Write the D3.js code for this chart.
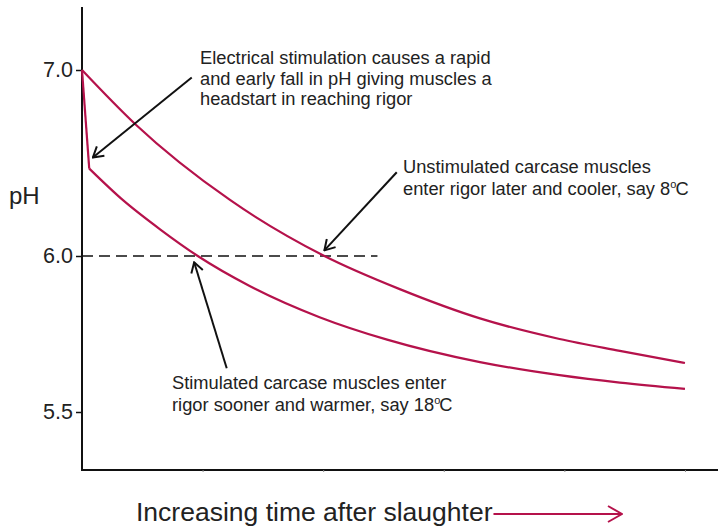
<!DOCTYPE html>
<html>
<head>
<meta charset="utf-8">
<script src="https://cdn.jsdelivr.net/npm/d3@7"></script>
<style>
  body { margin: 0; background: #fff; }
  svg { display: block; font-family: "Liberation Sans", Arial, sans-serif; }
</style>
</head>
<body>
<svg id="chart" width="726" height="529"></svg>
<script>
// 数据：时间（任意单位）与 pH
const phTicks = [5.5, 6.0, 7.0];
const timeTicks = [1, 2, 3, 4, 5];
const unstimTime = [0, 0.44, 1.23, 2.01, 2.64, 3.30, 3.96, 4.46, 5.00];
const unstimPH   = [7.0, 6.71, 6.30, 6.00, 5.893, 5.80, 5.734, 5.696, 5.657];
const stimTime = [0, 0.06, 0.34, 0.65, 0.96, 1.39, 1.97, 2.53, 3.30, 3.96, 4.46, 5.00];
const stimPH   = [7.0, 6.47, 6.30, 6.142, 6.00, 5.904, 5.804, 5.732, 5.660, 5.618, 5.594, 5.574];
const rigorPH = 6.0;
const rigorLineEnd = 2.45;

const red = '#b5124b';
const svg = d3.select('#chart');

// 横坐标（时间）
const x = d3.scaleLinear().domain([0, 5.274]).range([82, 718]);
// 纵坐标（pH），原图刻度不等距，用分段线性
const y = d3.scaleLinear()
    .domain([5.314, 5.5, 6.0, 7.0, 7.339])
    .range([470, 412, 256, 70, 7]);

// 箭头
const defs = svg.append('defs');
function addMarker(id, color, len, half) {
    defs.append('marker')
        .attr('id', id)
        .attr('viewBox', `-1 ${-half - 1} ${len + 2} ${2 * half + 2}`)
        .attr('refX', len).attr('refY', 0)
        .attr('markerUnits', 'userSpaceOnUse')
        .attr('markerWidth', len + 2).attr('markerHeight', 2 * half + 2)
        .attr('orient', 'auto')
        .append('path')
        .attr('d', `M0,${-half}L${len},0L0,${half}`)
        .attr('fill', 'none')
        .attr('stroke', color)
        .attr('stroke-width', 2);
}
addMarker('arrowBlack', '#111', 10, 6);
addMarker('arrowRed', red, 14, 8);

// 坐标轴
const yAxis = d3.axisLeft(y).tickValues(phTicks).tickSize(6).tickPadding(3)
    .tickFormat(d3.format('.1f'));
const yg = svg.append('g').attr('transform', `translate(${x(0)},0)`).call(yAxis);
yg.select('.domain').attr('stroke', '#111').attr('stroke-width', 2)
    .attr('d', `M0,${y.range()[4]}V${y.range()[0]}`);
yg.selectAll('.tick line').attr('stroke', '#111').attr('stroke-width', 1.5);
yg.selectAll('.tick text').attr('font-size', 21.5).attr('fill', '#222')
    .attr('font-family', '"Liberation Sans", Arial, sans-serif');

const xAxis = d3.axisBottom(x).tickValues(timeTicks).tickSize(2).tickFormat('');
const xg = svg.append('g').attr('transform', `translate(0,${y(y.domain()[0])})`).call(xAxis);
xg.select('.domain').attr('stroke', '#111').attr('stroke-width', 2)
    .attr('d', `M${x(0) - 1},0H${x.range()[1]}`);
xg.selectAll('.tick line').attr('stroke', '#888').attr('stroke-width', 1);

// pH 6.0 虚线
svg.append('line')
    .attr('x1', x(0)).attr('x2', x(rigorLineEnd))
    .attr('y1', y(rigorPH)).attr('y2', y(rigorPH))
    .attr('stroke', '#111').attr('stroke-width', 1.6)
    .attr('stroke-dasharray', '11,6');

// 曲线
const curveLine = d3.line().x(d => x(d[0])).y(d => y(d[1])).curve(d3.curveMonotoneX);
const straight = d3.line().x(d => x(d[0])).y(d => y(d[1]));
const unstim = unstimTime.map((t, i) => [t, unstimPH[i]]);
const stim = stimTime.map((t, i) => [t, stimPH[i]]);

svg.append('path').attr('d', curveLine(unstim))
    .attr('fill', 'none').attr('stroke', red).attr('stroke-width', 2.2);
svg.append('path').attr('d', straight(stim.slice(0, 2)))
    .attr('fill', 'none').attr('stroke', red).attr('stroke-width', 2.2);
svg.append('path').attr('d', curveLine(stim.slice(1)))
    .attr('fill', 'none').attr('stroke', red).attr('stroke-width', 2.2);

// 注释箭头（数据坐标：起点 -> 终点）
const arrows = [
    [[0.91, 6.96], [0.09, 6.53]],
    [[2.61, 6.45], [2.01, 6.03]],
    [[1.20, 5.64], [0.93, 5.98]]
];
svg.selectAll('.ann-arrow').data(arrows).join('line')
    .attr('class', 'ann-arrow')
    .attr('x1', d => x(d[0][0])).attr('y1', d => y(d[0][1]))
    .attr('x2', d => x(d[1][0])).attr('y2', d => y(d[1][1]))
    .attr('stroke', '#111').attr('stroke-width', 2)
    .attr('marker-end', 'url(#arrowBlack)');

// 注释文字
function block(lines, tx, ty, lh) {
    const t = svg.append('text').attr('x', tx).attr('y', ty)
        .attr('font-size', 18.3).attr('fill', '#222');
    lines.forEach((l, i) => {
        const ts = t.append('tspan').attr('x', tx).attr('y', ty + i * lh);
        if (Array.isArray(l)) {
            ts.append('tspan').text(l[0]);
            ts.append('tspan').attr('font-size', 11).attr('dy', -7).attr('dx', 0).text('o');
            ts.append('tspan').attr('dy', 7).attr('dx', -1).text('C');
        } else {
            ts.text(l);
        }
    });
}
block(['Electrical stimulation causes a rapid',
       'and early fall in pH giving muscles a',
       'headstart in reaching rigor'], 200, 64, 20.5);
block(['Unstimulated carcase muscles',
       ['enter rigor later and cooler, say 8']], 403, 173, 22);
block(['Stimulated carcase muscles enter',
       ['rigor sooner and warmer, say 18']], 172, 389, 22);

// 纵轴标题
svg.append('text').attr('x', 9).attr('y', 204)
    .attr('font-size', 24).attr('fill', '#222').text('pH');

// 横轴标题与红色箭头
const xt = svg.append('text').attr('x', 136).attr('y', 521)
    .attr('font-size', 26.5).attr('fill', '#222').text('Increasing time after slaughter');
const tw = xt.node().getComputedTextLength();
svg.append('line')
    .attr('x1', 136 + tw + 1).attr('x2', 622)
    .attr('y1', 514).attr('y2', 514)
    .attr('stroke', red).attr('stroke-width', 2)
    .attr('marker-end', 'url(#arrowRed)');
</script>
</body>
</html>
